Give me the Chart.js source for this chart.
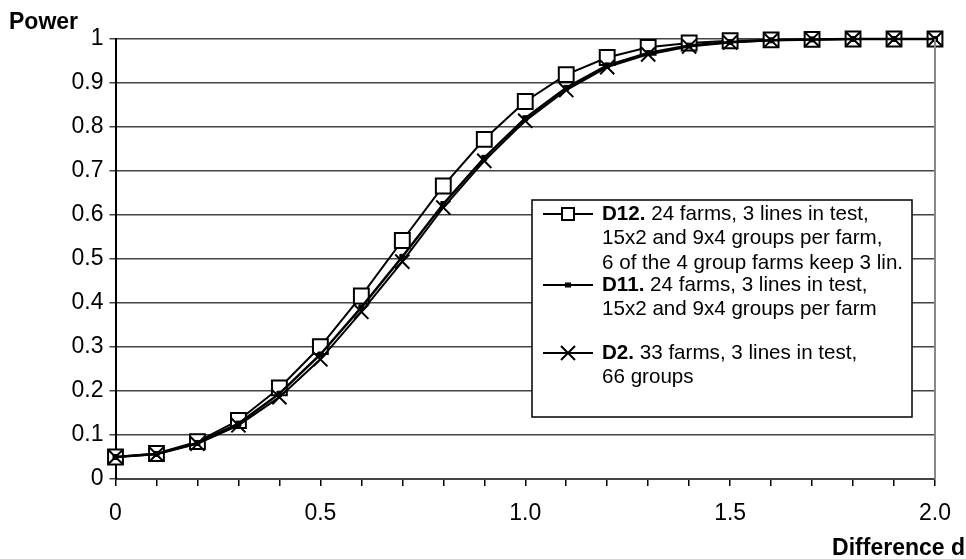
<!DOCTYPE html>
<html>
<head>
<meta charset="utf-8">
<script src="https://cdn.jsdelivr.net/npm/chart.js@4.4.1/dist/chart.umd.min.js"></script>
<style>
  html, body { margin: 0; padding: 0; background: #fff; }
  #wrap { width: 966px; height: 559px; position: relative; }
</style>
</head>
<body>
<div id="wrap"><canvas id="powerChart"></canvas></div>
<script>
// difference d on the x axis, power on y
const diffs = [0, 0.1, 0.2, 0.3, 0.4, 0.5, 0.6, 0.7, 0.8, 0.9, 1.0, 1.1, 1.2, 1.3, 1.4, 1.5, 1.6, 1.7, 1.8, 1.9, 2.0];
const powerD12 = [0.05, 0.058, 0.085, 0.133, 0.207, 0.301, 0.416, 0.542, 0.666, 0.772, 0.858, 0.919, 0.958, 0.981, 0.991, 0.996, 0.998, 0.999, 1, 1, 1];
const powerD11 = [0.05, 0.057, 0.082, 0.126, 0.194, 0.283, 0.39, 0.505, 0.625, 0.73, 0.82, 0.889, 0.94, 0.968, 0.985, 0.993, 0.997, 0.999, 1, 1, 1];
const powerD2 = [0.05, 0.056, 0.08, 0.122, 0.186, 0.272, 0.38, 0.494, 0.617, 0.723, 0.814, 0.884, 0.936, 0.965, 0.983, 0.992, 0.997, 0.999, 1, 1, 1];
const xLabelTicks = [0, 0.5, 1.0, 1.5, 2.0];

const legendItems = [
  { bold: "D12.", lines: [" 24 farms, 3 lines in test,", "15x2 and 9x4 groups per farm,", "6 of the 4 group farms keep 3 lin."], style: "rect", y: 214 },
  { bold: "D11.", lines: [" 24 farms, 3 lines in test,", "15x2 and 9x4 groups per farm"], style: "dot", y: 285 },
  { bold: "D2.", lines: [" 33 farms, 3 lines in test,", "66 groups"], style: "cross", y: 353 }
];

const FONT = "'Liberation Sans', Arial, sans-serif";

const pts = arr => diffs.map((d, i) => ({ x: d, y: arr[i] }));

// frame, titles and the boxed legend
const extras = {
  id: "extras",
  afterDraw(chart) {
    const ctx = chart.ctx;
    const a = chart.chartArea;
    ctx.save();
    ctx.strokeStyle = "#888";
    ctx.lineWidth = 2;
    ctx.beginPath();
    ctx.moveTo(a.right, a.top);
    ctx.lineTo(a.right, a.bottom);
    ctx.stroke();

    ctx.fillStyle = "#000";
    ctx.font = "bold 23px " + FONT;
    ctx.textBaseline = "alphabetic";
    ctx.textAlign = "left";
    ctx.fillText("Power", 9, 29);
    ctx.textAlign = "right";
    ctx.fillText("Difference d", 965, 555);

    // legend box
    const bx = 532, by = 200, bw = 380, bh = 217;
    ctx.fillStyle = "#fff";
    ctx.fillRect(bx, by, bw, bh);
    ctx.strokeStyle = "#000";
    ctx.lineWidth = 1.5;
    ctx.strokeRect(bx, by, bw, bh);

    ctx.textAlign = "left";
    ctx.textBaseline = "middle";
    legendItems.forEach(item => {
      const y = item.y;
      ctx.strokeStyle = "#000";
      ctx.lineWidth = 2;
      ctx.beginPath();
      ctx.moveTo(543, y);
      ctx.lineTo(593, y);
      ctx.stroke();
      if (item.style === "rect") {
        ctx.fillStyle = "#fff";
        ctx.fillRect(562, y - 6, 12, 12);
        ctx.strokeRect(562, y - 6, 12, 12);
      } else if (item.style === "dot") {
        ctx.fillStyle = "#000";
        ctx.fillRect(565, y - 2.5, 6, 5);
      } else {
        ctx.beginPath();
        ctx.moveTo(561, y - 7); ctx.lineTo(575, y + 7);
        ctx.moveTo(575, y - 7); ctx.lineTo(561, y + 7);
        ctx.stroke();
      }
      ctx.fillStyle = "#000";
      ctx.font = "bold 20.6px " + FONT;
      ctx.fillText(item.bold, 602, y);
      const w = ctx.measureText(item.bold).width;
      ctx.font = "20.6px " + FONT;
      item.lines.forEach((t, i) => {
        ctx.fillText(t, i === 0 ? 602 + w : 602, y + i * 24.5);
      });
    });
    ctx.restore();
  }
};

new Chart(document.getElementById("powerChart").getContext("2d"), {
  type: "line",
  data: {
    datasets: [
      {
        label: "D12",
        data: pts(powerD12),
        borderColor: "#000",
        borderWidth: 2,
        pointStyle: "rect",
        pointRadius: 10.5,
        pointBackgroundColor: "#fff",
        pointBorderColor: "#000",
        pointBorderWidth: 2,
        order: 3,
        clip: false
      },
      {
        label: "D11",
        data: pts(powerD11),
        borderColor: "#000",
        borderWidth: 2.5,
        pointStyle: "rect",
        pointRadius: 3.5,
        pointBackgroundColor: "#000",
        pointBorderColor: "#000",
        pointBorderWidth: 1,
        order: 2,
        clip: false
      },
      {
        label: "D2",
        data: pts(powerD2),
        borderColor: "#000",
        borderWidth: 2,
        pointStyle: "crossRot",
        pointRadius: 10,
        pointBorderColor: "#000",
        pointBorderWidth: 2,
        order: 1,
        clip: false
      }
    ]
  },
  options: {
    responsive: true,
    maintainAspectRatio: false,
    animation: false,
    layout: { padding: { top: 39, right: 31, left: 0, bottom: 0 } },
    plugins: { legend: { display: false }, tooltip: { enabled: false } },
    scales: {
      x: {
        type: "linear",
        min: 0,
        max: 2,
        afterFit: s => { s.height = 80; },
        afterBuildTicks: s => {
          s.ticks = diffs.map(v => ({ value: v }));
        },
        ticks: {
          autoSkip: false,
          maxRotation: 0,
          padding: 14,
          color: "#000",
          font: { family: FONT, size: 23 },
          callback: v => {
            const hit = xLabelTicks.find(t => Math.abs(t - v) < 1e-6);
            if (hit === undefined) return "";
            return hit === 0 ? "0" : hit.toFixed(1);
          }
        },
        grid: { drawOnChartArea: false, drawTicks: true, tickLength: 7, color: "#000", lineWidth: 1.5 },
        border: { color: "#444", width: 2 }
      },
      y: {
        min: 0,
        max: 1,
        afterFit: s => { s.width = 115.5; },
        ticks: {
          stepSize: 0.1,
          padding: 6,
          color: "#000",
          font: { family: FONT, size: 23 },
          callback: v => Math.round(v * 10) / 10
        },
        grid: { color: "#444", lineWidth: 1.5, tickLength: 6, drawTicks: true },
        border: { color: "#000", width: 2 }
      }
    }
  },
  plugins: [extras]
});
</script>
</body>
</html>
